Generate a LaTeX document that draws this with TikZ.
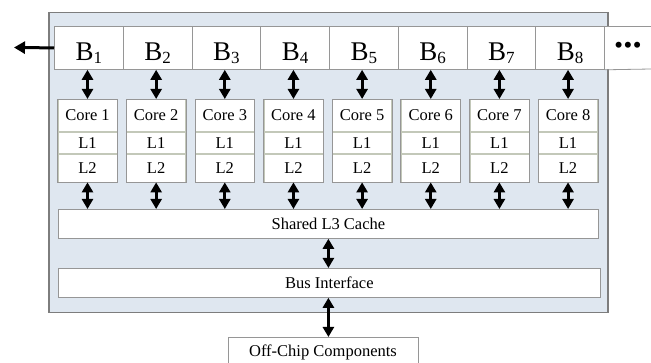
\documentclass[tikz,border=0pt]{standalone}
\usepackage{fontspec}
\setmainfont{Liberation Serif}
\usetikzlibrary{arrows.meta,calc}
\definecolor{chipbg}{RGB}{223,231,240}
\definecolor{chipborder}{RGB}{125,125,125}
\definecolor{boxborder}{RGB}{150,150,150}
\definecolor{divline}{RGB}{195,200,185}
\tikzset{
  box/.style={draw=boxborder, fill=white, line width=0.8pt, inner sep=0pt},
  cell/.style={draw=divline, fill=white, line width=0.8pt, inner sep=0pt, minimum width=59pt},
  lbl/.style={font=\fontsize{16.5}{18}\selectfont},
  bcell/.style={box, minimum width=68.75pt, text height=34pt, text depth=9pt, font=\fontsize{27}{27}\selectfont},
  biarrow/.style={line width=3pt, {Triangle[width=11pt,length=10pt]}-{Triangle[width=11pt,length=10pt]}},
  outarrow/.style={line width=3pt, -{Triangle[width=12pt,length=11pt]}},
}
\newcommand{\bsub}[1]{{\fontsize{17}{17}\selectfont\raisebox{-3pt}{#1}}}
\begin{document}
\begin{tikzpicture}[x=1pt,y=-1pt]
\clip (0,0) rectangle (651,363);
\fill[white] (0,0) rectangle (651,363);
% chip
\node[draw=chipborder, fill=chipbg, line width=1.5pt, minimum width=559pt, minimum height=300pt, anchor=north west, inner sep=0pt] (chip) at (48,12) {};
% B row
\foreach \i in {1,...,8}{
  \node[bcell, anchor=north west] (b\i) at ({54+(\i-1)*68.75},26) {B\bsub{\i}};
}
\fill[white] (b8.north east) rectangle (651,69);
\draw[boxborder, line width=0.8pt] (b8.north east) -- (651,26);
\draw[boxborder, line width=0.8pt] (b8.south east) -- (651,69);
\node (dots) at (628,47) {\fontsize{22}{22}\selectfont\textbf{•\hspace{1.5pt}•\hspace{1.5pt}•}};
% left output arrow
\coordinate (out) at (14,47.5);
\draw[outarrow] (b1.west) -- (out);
% cores
\foreach \i in {1,...,8}{
  \node[cell, lbl, minimum height=32pt, anchor=north] (core\i) at ({87.5+(\i-1)*68.65},99) {Core \i};
  \node[cell, lbl, minimum height=21pt, anchor=north] (la\i) at (core\i.south) {L1};
  \node[cell, lbl, minimum height=28pt, anchor=north] (lb\i) at (la\i.south) {L2};
  \draw[boxborder, line width=0.8pt] (core\i.north west) rectangle (lb\i.south east);
  \draw[biarrow] (core\i.north |- b\i.south) -- (core\i.north);
}
% shared L3
\node[box, lbl, minimum width=540pt, minimum height=29pt, anchor=north west] (l3) at (58,209) {Shared L3 Cache};
\foreach \i in {1,...,8}{
  \draw[biarrow] (lb\i.south) -- (lb\i.south |- l3.north);
}
% bus
\node[box, lbl, minimum width=542pt, minimum height=29pt, anchor=north west] (bus) at (58,268) {Bus Interface};
\draw[biarrow] (l3.south) -- (l3.south |- bus.north);
% off chip
\node[box, lbl, minimum width=190pt, minimum height=30pt, anchor=north] (off) at (323,337) {Off-Chip Components};
\draw[biarrow] (l3.south |- bus.south) -- (l3.south |- off.north);
\end{tikzpicture}
\end{document}
